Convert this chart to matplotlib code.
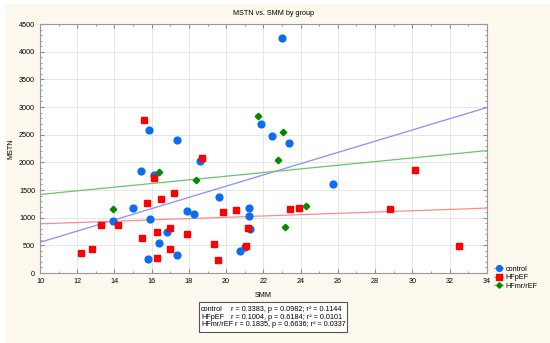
import numpy as np
import matplotlib.pyplot as plt
from matplotlib.lines import Line2D
from matplotlib.patches import Rectangle
from matplotlib.ticker import MultipleLocator

plt.rcParams['font.family'] = ['Liberation Sans', 'DejaVu Sans']

# data
ctrl_smm = [13.9, 15.0, 15.4, 15.85, 15.9, 16.1, 16.4, 15.8, 16.8, 17.35, 17.35, 17.9, 18.3,
            18.6, 19.6, 20.75, 21.0, 21.25, 21.25, 21.3, 21.85, 22.45, 23.0, 23.4, 25.75]
ctrl_mstn = [940, 1170, 1850, 2590, 980, 1780, 550, 260, 750, 330, 2410, 1120, 1070,
             2020, 1380, 390, 470, 1170, 1030, 790, 2700, 2480, 4250, 2350, 1600]

hfp_smm = [12.2, 12.8, 13.3, 14.2, 15.5, 15.75, 15.6, 16.1, 16.3, 16.3, 16.5, 17.0, 17.0, 17.2,
           17.9, 18.7, 19.35, 19.55, 19.85, 20.55, 21.05, 21.2, 23.45, 23.9, 28.8, 30.15, 32.5]
hfp_mstn = [360, 430, 870, 870, 630, 1260, 2770, 1720, 740, 270, 1330, 820, 430, 1440,
            710, 2080, 530, 240, 1100, 1140, 490, 820, 1150, 1180, 1150, 1860, 480]

hfr_smm = [13.9, 16.4, 18.4, 21.7, 23.05, 22.8, 23.15, 24.3]
hfr_mstn = [1160, 1820, 1680, 2830, 2540, 2040, 830, 1220]

stat_names = ["control", "HFpEF", "HFmr/rEF"]
stat_text = ["r = 0.3383, p = 0.0982; r² = 0.1144",
             "r = 0.1004, p = 0.6184; r² = 0.0101",
             "r = 0.1835, p = 0.6636; r² = 0.0337"]

groups = [
    ("control", ctrl_smm, ctrl_mstn, "#0a6ef0", "o", 4.9, "#8c8cff"),
    ("HFpEF", hfp_smm, hfp_mstn, "#ff0000", "s", 4.5, "#ff8c8c"),
    ("HFmr/rEF", hfr_smm, hfr_mstn, "#008a00", "D", 3.3, "#6cc46c"),
]
fs = 5.2

fig = plt.figure(figsize=(5.5, 3.43), dpi=100)
fig.patch.set_facecolor("white")
# cream panel (thin white strip on top and left like the source)
fig.patches.append(Rectangle((0.009, 0), 0.991, 0.988, transform=fig.transFigure,
                             fc="#fdf9ee", ec="none", zorder=-10))
ax = fig.add_axes([0.0727, 0.204, 0.8123, 0.726])
ax.set_facecolor("white")

xs = np.array([10, 34])
handles = []
for name, x, y, col, mk, ms, lcol in groups:
    k, b = np.polyfit(x, y, 1)
    ax.plot(xs, k * xs + b, color=lcol, lw=0.9, zorder=2)
    ax.plot(x, y, ls="none", marker=mk, ms=ms, color=col, mec=col, zorder=3)
    handles.append(Line2D([], [], color=lcol, lw=0.8, marker=mk, ms=ms * 0.85,
                          mfc=col, mec=col))

ax.set_xlim(10, 34)
ax.set_ylim(0, 4500)
ax.xaxis.set_major_locator(MultipleLocator(2))
ax.yaxis.set_major_locator(MultipleLocator(500))
ax.xaxis.set_minor_locator(MultipleLocator(1))
ax.yaxis.set_minor_locator(MultipleLocator(100))
ax.tick_params(which="both", direction="in", top=True, right=True, labelsize=fs,
               color="#888888", pad=3.5)
ax.tick_params(which="major", length=3)
ax.tick_params(which="minor", length=1.5)
ax.grid(True, color="#e6e6e6", lw=0.7)
ax.set_axisbelow(True)
for s in ax.spines.values():
    s.set_color("#999999")
    s.set_linewidth(0.8)

ax.set_xlabel("SMM", fontsize=fs, labelpad=5)
ax.set_ylabel("MSTN", fontsize=fs, labelpad=3)
fig.text(0.497, 0.961, "MSTN vs. SMM by group", ha="center", va="center", fontsize=fs)

# stats box under the axis label
fig.patches.append(Rectangle((0.3618, 0.0321), 0.269, 0.086, transform=fig.transFigure,
                             fc="white", ec="#555555", lw=0.8))
rows_y = [0.0991, 0.0758, 0.0525]
for i in range(3):
    fig.text(0.3655, rows_y[i], stat_names[i], ha="left", va="center", fontsize=fs)
    fig.text(0.420 if i < 2 else 0.4273, rows_y[i], stat_text[i], ha="left",
             va="center", fontsize=fs)

fig.legend(handles, [g[0] for g in groups], loc="upper left",
           bbox_to_anchor=(0.898, 0.226), fontsize=fs, frameon=False,
           handlelength=1.3, handletextpad=0.3, labelspacing=0.2, borderpad=0,
           borderaxespad=0)

fig.savefig("out.png", dpi=100, facecolor=fig.get_facecolor())
